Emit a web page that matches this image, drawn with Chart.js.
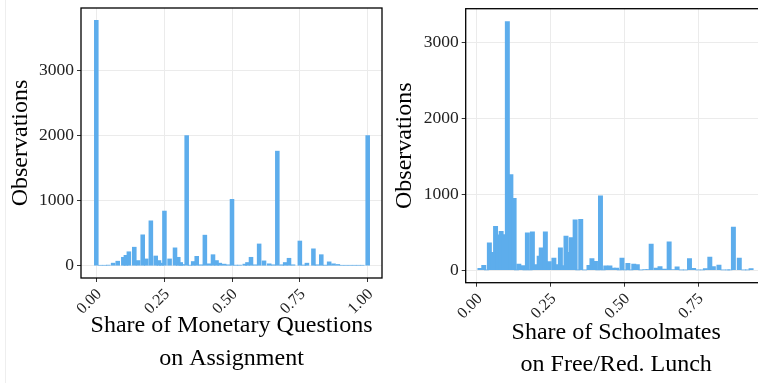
<!DOCTYPE html>
<html>
<head>
<meta charset="utf-8">
<script src="https://cdn.jsdelivr.net/npm/chart.js@4.4.0/dist/chart.umd.min.js"></script>
<style>
html,body{margin:0;padding:0;background:#fff;overflow:hidden;width:758px;height:383px;}
#wrap{position:relative;width:758px;height:383px;overflow:hidden;}
#edge{position:absolute;left:5px;top:0;width:1px;height:383px;background:#eeeeee;}
.box{position:absolute;top:0;height:383px;}
</style>
</head>
<body>
<div id="wrap">
  <div id="edge"></div>
  <div class="box" style="left:0;width:390px"><canvas id="c1" width="390" height="383"></canvas></div>
  <div class="box" style="left:390px;width:400px"><canvas id="c2" width="400" height="383"></canvas></div>
</div>
<script>
// ---- Data: left panel (share of monetary questions on assignment) ----
const monetaryShare = [0, 0.015, 0.03, 0.044, 0.062, 0.079, 0.0996, 0.109, 0.12, 0.14, 0.154, 0.171, 0.184, 0.201, 0.219, 0.231, 0.24, 0.251, 0.27, 0.29, 0.302, 0.311, 0.318, 0.333, 0.345, 0.357, 0.37, 0.385, 0.4, 0.416, 0.43, 0.443, 0.455, 0.471, 0.486, 0.5, 0.514, 0.528, 0.547, 0.557, 0.57, 0.585, 0.6, 0.618, 0.637, 0.652, 0.667, 0.683, 0.696, 0.71, 0.725, 0.75, 0.765, 0.776, 0.8, 0.813, 0.829, 0.843, 0.858, 0.874, 0.89, 0.905, 0.92, 0.935, 0.95, 0.965, 0.98, 1.0];
const monetaryObs = [3770, 8, 8, 10, 40, 70, 130, 160, 215, 285, 80, 475, 105, 690, 150, 80, 40, 840, 105, 275, 130, 50, 20, 2000, 10, 65, 145, 15, 470, 30, 170, 80, 40, 25, 15, 1020, 10, 10, 25, 50, 130, 15, 335, 75, 30, 15, 1760, 15, 50, 115, 15, 380, 12, 40, 260, 15, 170, 10, 60, 30, 20, 8, 8, 8, 8, 8, 8, 2000];

// ---- Data: right panel (share of schoolmates on free/reduced lunch) ----
const lunchShare = [0.010, 0.023, 0.032, 0.042, 0.053, 0.063, 0.072, 0.082, 0.092, 0.103, 0.115, 0.126, 0.134, 0.142, 0.155, 0.163, 0.171, 0.18, 0.188, 0.202, 0.211, 0.218, 0.232, 0.245, 0.261, 0.27, 0.283, 0.293, 0.302, 0.312, 0.32, 0.333, 0.342, 0.352, 0.365, 0.38, 0.39, 0.402, 0.41, 0.419, 0.428, 0.437, 0.451, 0.462, 0.474, 0.483, 0.492, 0.502, 0.512, 0.522, 0.532, 0.544, 0.556, 0.57, 0.58, 0.591, 0.608, 0.621, 0.636, 0.652, 0.665, 0.679, 0.693, 0.707, 0.721, 0.735, 0.75, 0.765, 0.775, 0.79, 0.802, 0.821, 0.835, 0.85, 0.858, 0.87, 0.89, 0.905, 0.918, 0.93];
const lunchObs = [26, 65, 5, 362, 236, 580, 467, 515, 472, 3280, 1262, 948, 5, 83, 61, 5, 493, 5, 507, 74, 188, 297, 507, 114, 162, 74, 297, 61, 450, 236, 432, 664, 5, 672, 5, 65, 153, 118, 5, 983, 5, 57, 57, 30, 30, 5, 162, 5, 92, 5, 83, 74, 5, 10, 10, 345, 30, 48, 15, 375, 8, 44, 5, 5, 153, 26, 5, 5, 22, 175, 48, 70, 5, 5, 5, 568, 162, 5, 5, 22];

// ---- Tick labels ----
const leftXTicks = [0, 0.25, 0.5, 0.75, 1];
const rightXTicks = [0, 0.25, 0.5, 0.75];
const yTicks = [0, 1000, 2000, 3000];

const FONT = "'Liberation Serif','Times New Roman',Times,serif";
const BAR = '#5DADEC';
const GRID = '#ebebeb';

const boxPlugin = {
  id: 'panelBox',
  afterDraw(chart) {
    const a = chart.chartArea, ctx = chart.ctx;
    ctx.save();
    ctx.strokeStyle = '#000';
    ctx.lineWidth = 1.3;
    ctx.strokeRect(a.left, a.top, a.right - a.left, a.bottom - a.top);
    ctx.restore();
  }
};

function build(id, xs, ys, xTicks, L) {
  const pts = xs.map((x, i) => ({x: x, y: ys[i]}));
  return new Chart(document.getElementById(id), {
    type: 'bar',
    data: {datasets: [{data: pts, backgroundColor: BAR, borderWidth: 0, barThickness: L.bar}]},
    options: {
      responsive: false,
      animation: false,
      layout: {padding: {left: 0, top: L.top, right: L.right, bottom: 0}},
      plugins: {legend: {display: false}, tooltip: {enabled: false}},
      scales: {
        x: {
          type: 'linear', min: L.xmin, max: L.xmax, offset: false,
          afterBuildTicks: s => { s.ticks = xTicks.map(v => ({value: v})); },
          afterFit: s => { s.height = L.xh; s.paddingLeft = 0; s.paddingRight = 0; },
          grid: {color: GRID, lineWidth: 1, tickColor: '#333', tickLength: 4, offset: false},
          border: {display: false},
          ticks: {minRotation: 45, maxRotation: 45, autoSkip: false, padding: 3, labelOffset: 3, color: '#222',
                  font: {family: FONT, size: 16}, callback: v => Number(v).toFixed(2)},
          title: {display: true, text: L.xtitle, color: '#000',
                  font: {family: FONT, size: 24, lineHeight: L.xlh}, padding: {top: 0, bottom: L.xpb}}
        },
        y: {
          type: 'linear', min: L.ymin, max: L.ymax,
          afterBuildTicks: s => { s.ticks = yTicks.map(v => ({value: v})); },
          afterFit: s => { s.width = L.yw; s.paddingTop = 0; s.paddingBottom = 0; },
          grid: {color: GRID, lineWidth: 1, tickColor: '#333', tickLength: 4},
          border: {display: false},
          ticks: {padding: 3, color: '#222', font: {family: FONT, size: 17.5}, callback: v => String(v)},
          title: {display: true, text: 'Observations', color: '#000',
                  font: {family: FONT, size: 24, lineHeight: 1.2}, padding: {top: L.ypt, bottom: 0}}
        }
      }
    },
    plugins: [boxPlugin]
  });
}

build('c1', monetaryShare, monetaryObs, leftXTicks, {
  bar: 3.9, top: 8, right: 8, yw: 81, xh: 105,
  xmin: -0.0564, xmax: 1.0527, ymin: -188, ymax: 3958,
  xtitle: ['Share of Monetary Questions', 'on Assignment'], xlh: 1.375, xpb: 7.5, ypt: 6.6
});
build('c2', lunchShare, lunchObs, rightXTicks, {
  bar: 4.3, top: 8.7, right: 23.3, yw: 75.7, xh: 100.3,
  xmin: -0.0383, xmax: 0.983, ymin: -164, ymax: 3450,
  xtitle: ['Share of Schoolmates', 'on Free/Red. Lunch'], xlh: 1.333, xpb: 2.3, ypt: 0.1
});
</script>
</body>
</html>
